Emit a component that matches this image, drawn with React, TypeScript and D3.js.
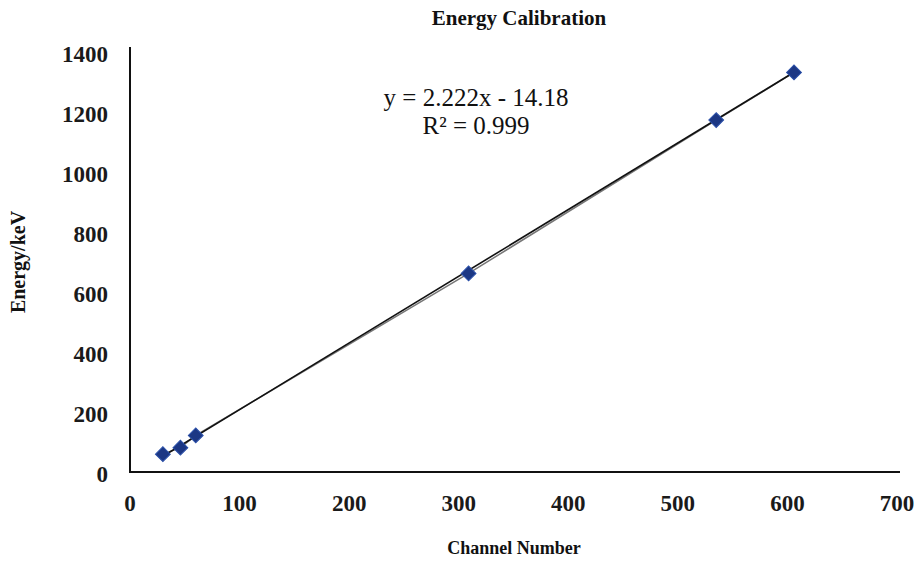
import React from 'react';
import * as d3 from 'd3';

// 数据：通道号与能量 (keV)
const channels = [30, 46, 60, 309, 535, 606];
const energies = [59.5, 81, 122, 662, 1173, 1332];
const xTicks = [0, 100, 200, 300, 400, 500, 600, 700];
const yTicks = [0, 200, 400, 600, 800, 1000, 1200, 1400];
const slope = 2.222;
const intercept = -14.18;

const W = 922;
const H = 568;
const plot = { left: 130, right: 897, top: 52, bottom: 472 };
const serif = '"Liberation Serif", "Times New Roman", serif';

export default function App() {
  const x = d3.scaleLinear().domain([0, 700]).range([plot.left, plot.right]);
  const y = d3.scaleLinear().domain([0, 1400]).range([plot.bottom, plot.top]);

  const pts = channels.map((c, i) => ({ c, e: energies[i] }));

  // 数据连线
  const seriesLine = d3
    .line<{ c: number; e: number }>()
    .x(d => x(d.c))
    .y(d => y(d.e))(pts) || '';

  // 线性趋势线
  const x0 = d3.min(channels) as number;
  const x1 = d3.max(channels) as number;
  const trend = d3
    .line<number>()
    .x(d => x(d))
    .y(d => y(slope * d + intercept))([x0, x1]) || '';

  const diamond = d3.symbol(d3.symbolSquare, 110)() || '';

  return (
    <svg
      width={W}
      height={H}
      style={{ position: 'absolute', left: 0, top: 0, background: '#fff', fontFamily: serif }}
    >
      <text x={519} y={25} textAnchor="middle" fontSize={21} fontWeight="bold" fill="#111">
        Energy Calibration
      </text>

      {/* 坐标轴 */}
      <line x1={plot.left} y1={47} x2={plot.left} y2={plot.bottom + 1} stroke="#111" strokeWidth={2} />
      <line x1={plot.left - 1} y1={plot.bottom} x2={plot.right + 3} y2={plot.bottom} stroke="#111" strokeWidth={2} />

      {yTicks.map(t => (
        <text key={'y' + t} x={108} y={y(t) + 10} textAnchor="end" fontSize={23} fontWeight="bold" fill="#1a1a1a">
          {t}
        </text>
      ))}
      {xTicks.map(t => (
        <text key={'x' + t} x={x(t)} y={511} textAnchor="middle" fontSize={23} fontWeight="bold" fill="#1a1a1a">
          {t}
        </text>
      ))}

      <text
        transform={`translate(25,${(plot.top + plot.bottom) / 2}) rotate(-90)`}
        textAnchor="middle"
        fontSize={20}
        fontWeight="bold"
        fill="#111"
      >
        Energy/keV
      </text>
      <text x={514} y={554} textAnchor="middle" fontSize={18} fontWeight="bold" fill="#111">
        Channel Number
      </text>

      {/* 连线与趋势线 */}
      <path d={seriesLine} fill="none" stroke="#777" strokeWidth={1.5} />
      <path d={trend} fill="none" stroke="#111" strokeWidth={1.6} />

      {pts.map((p, i) => (
        <path
          key={i}
          d={diamond}
          transform={`translate(${x(p.c)},${y(p.e)}) rotate(45)`}
          fill="#1c3784"
          stroke="#2a4fa8"
          strokeWidth={1}
        />
      ))}

      <text x={476} y={106} textAnchor="middle" fontSize={25} fill="#111">
        y = 2.222x - 14.18
      </text>
      <text x={476} y={134} textAnchor="middle" fontSize={25} fill="#111">
        R² = 0.999
      </text>
    </svg>
  );
}
